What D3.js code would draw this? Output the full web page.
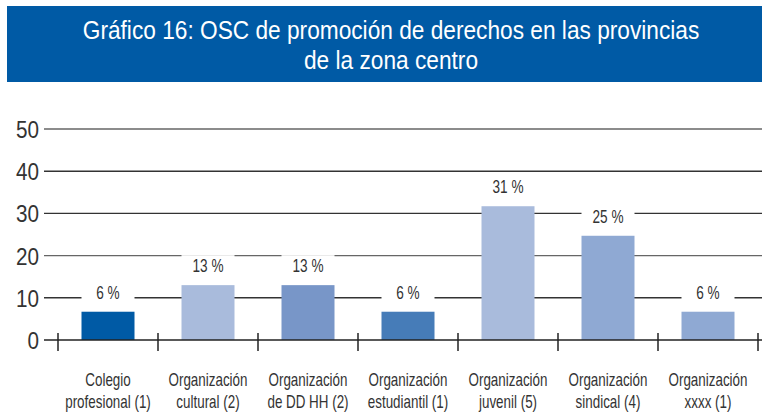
<!DOCTYPE html>
<html lang="es">
<head>
<meta charset="UTF-8">
<title>Gráfico 16</title>
<script src="https://d3js.org/d3.v7.min.js"></script>
<style>
  body { margin: 0; background: #fff; }
  svg { display: block; }
  text { font-family: "Liberation Sans", Arial, sans-serif; }
</style>
</head>
<body>
<svg width="762" height="414"></svg>
<script>
// data
const categories = [
  ["Colegio", "profesional (1)"],
  ["Organización", "cultural (2)"],
  ["Organización", "de DD HH (2)"],
  ["Organización", "estudiantil (1)"],
  ["Organización", "juvenil (5)"],
  ["Organización", "sindical (4)"],
  ["Organización", "xxxx (1)"]
];
const values = [6.7, 13, 13, 6.7, 31.7, 24.7, 6.7];
const valueLabels = ["6 %", "13 %", "13 %", "6 %", "31 %", "25 %", "6 %"];
const barColors = ["#005aa5", "#a9bbdc", "#7896c8", "#467cb8", "#a9bbdc", "#8fa9d3", "#8fa9d3"];
const yTicks = [0, 10, 20, 30, 40, 50];
const titleLines = ["Gráfico 16: OSC de promoción de derechos en las provincias", "de la zona centro"];

const svg = d3.select("svg");

// no condensed font installed: measure a sample word and squeeze to the width seen in the reference
function squeeze(sample, size, target) {
  const t = svg.append("text").attr("font-size", size).text(sample);
  const w = t.node().getComputedTextLength();
  t.remove();
  return target / w;
}
function narrowText(sel, x, y, k) {
  sel.attr("x", 0).attr("y", 0)
    .attr("transform", (d, i) => `translate(${x(d, i)},${y(d, i)}) scale(${k},1)`);
}

// title banner
svg.append("rect")
  .attr("x", 7).attr("y", 6)
  .attr("width", 755).attr("height", 76)
  .attr("fill", "#005aa5");

svg.append("g")
  .selectAll("text")
  .data(titleLines)
  .join("text")
  .attr("text-anchor", "middle")
  .attr("font-size", 25)
  .attr("fill", "#fff")
  .text(d => d)
  .call(narrowText, () => 391, (d, i) => 39 + i * 30, squeeze(titleLines[0], 25, 617));

const x = d3.scaleBand()
  .domain(d3.range(categories.length))
  .range([58, 758])
  .paddingInner(0.47)
  .paddingOuter(0.235);

const y = d3.scaleLinear().domain([0, 50]).range([340, 129]);

// gridlines
svg.append("g")
  .selectAll("line")
  .data(yTicks.filter(d => d > 0))
  .join("line")
  .attr("x1", 44).attr("x2", 762)
  .attr("y1", d => y(d)).attr("y2", d => y(d))
  .attr("stroke", (d, i) => i % 3 === 1 ? "#666" : "#333")
  .attr("stroke-width", 1.4);

// y labels
svg.append("g")
  .selectAll("text")
  .data(yTicks)
  .join("text")
  .attr("text-anchor", "end")
  .attr("font-size", 24)
  .attr("fill", "#333")
  .text(d => d)
  .call(narrowText, () => 39, d => y(d) + 9, squeeze("50", 24, 23));

const step = x.step();

// bars
svg.append("g")
  .selectAll("rect")
  .data(values)
  .join("rect")
  .attr("x", (d, i) => x(i))
  .attr("y", d => y(d))
  .attr("width", x.bandwidth())
  .attr("height", d => y(0) - y(d))
  .attr("fill", (d, i) => barColors[i]);

// white boxes behind value labels
svg.append("g")
  .selectAll("rect")
  .data(values)
  .join("rect")
  .attr("x", (d, i) => x(i))
  .attr("y", d => y(d) - 30)
  .attr("width", x.bandwidth())
  .attr("height", 29)
  .attr("fill", "#fff");

svg.append("g")
  .selectAll("text")
  .data(values)
  .join("text")
  .attr("text-anchor", "middle")
  .attr("font-size", 18)
  .attr("fill", "#333")
  .text((d, i) => valueLabels[i])
  .call(narrowText, (d, i) => x(i) + x.bandwidth() / 2, d => y(d) - 13, squeeze("13 %", 18, 31));

// x axis line and ticks
svg.append("line")
  .attr("x1", 44).attr("x2", 762)
  .attr("y1", y(0)).attr("y2", y(0))
  .attr("stroke", "#222")
  .attr("stroke-width", 1.5);

svg.append("g")
  .selectAll("line")
  .data(d3.range(categories.length + 1))
  .join("line")
  .attr("x1", i => 58 + i * step).attr("x2", i => 58 + i * step)
  .attr("y1", 333).attr("y2", 351)
  .attr("stroke", "#222")
  .attr("stroke-width", 1.5);

// category labels, two lines each
const catLines = categories.flatMap((d, i) => d.map((t, j) => ({ t, i, j })));
svg.append("g")
  .selectAll("text")
  .data(catLines)
  .join("text")
  .attr("text-anchor", "middle")
  .attr("font-size", 18)
  .attr("fill", "#333")
  .text(d => d.t)
  .call(narrowText, d => x(d.i) + x.bandwidth() / 2, d => 386 + d.j * 22, squeeze("Organización", 18, 79));
</script>
</body>
</html>
